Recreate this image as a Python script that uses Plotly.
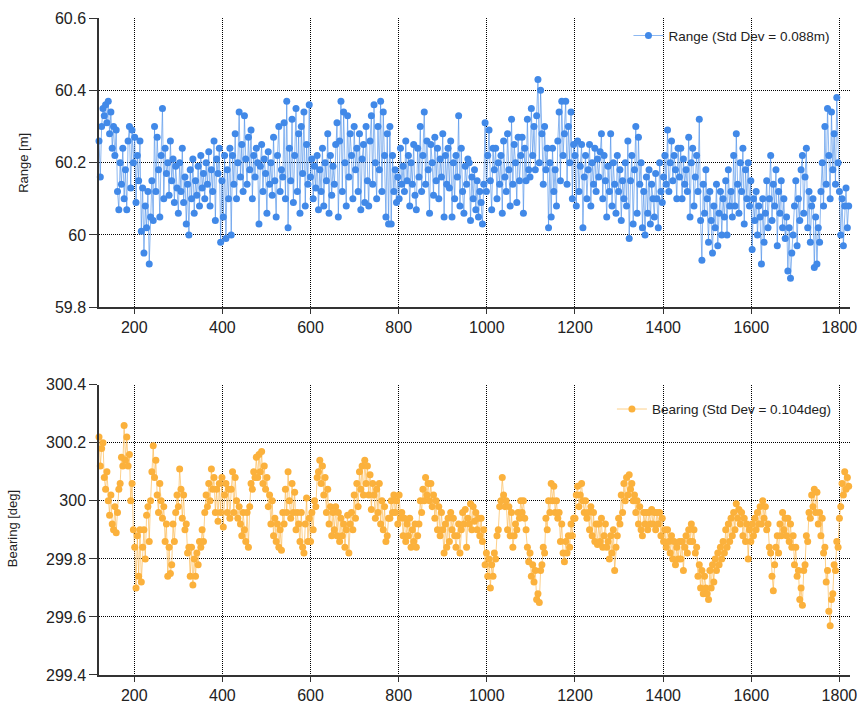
import plotly.graph_objects as go

# Sample numbering: first sample and spacing between stored samples
sample_start = 120
sample_step = 3

# Range measurements [m], 20 samples per row
range_m = [
    60.26, 60.16, 60.30, 60.35, 60.33, 60.36, 60.31, 60.37, 60.28, 60.34, 60.24, 60.30, 60.22, 60.29, 60.12, 60.07, 60.20, 60.14, 60.24, 60.10,
    60.18, 60.07, 60.26, 60.30, 60.13, 60.29, 60.20, 60.27, 60.09, 60.22, 60.15, 60.26, 60.01, 60.13, 59.95, 60.08, 60.02, 60.12, 59.92, 60.05,
    60.15, 60.04, 60.30, 60.12, 60.27, 60.18, 60.05, 60.22, 60.35, 60.10, 60.24, 60.17, 60.20, 60.11, 60.26, 60.15, 60.21, 60.09, 60.19, 60.13,
    60.06, 60.20, 60.12, 60.24, 60.09, 60.16, 60.03, 60.14, 60.00, 60.18, 60.10, 60.21, 60.06, 60.15, 60.11, 60.19, 60.08, 60.22, 60.13, 60.17,
    60.10, 60.20, 60.14, 60.23, 60.08, 60.18, 60.12, 60.26, 60.04, 60.21, 60.17, 60.24, 59.98, 60.15, 60.05, 60.22, 59.99, 60.18, 60.10, 60.24,
    60.00, 60.22, 60.14, 60.28, 60.10, 60.20, 60.34, 60.16, 60.25, 60.12, 60.33, 60.21, 60.14, 60.27, 60.18, 60.29, 60.10, 60.22, 60.16, 60.24,
    60.20, 60.03, 60.19, 60.25, 60.12, 60.21, 60.17, 60.06, 60.23, 60.14, 60.20, 60.11, 60.27, 60.15, 60.05, 60.22, 60.30, 60.12, 60.18, 60.16,
    60.31, 60.10, 60.37, 60.02, 60.24, 60.15, 60.32, 60.09, 60.22, 60.35, 60.12, 60.28, 60.06, 60.30, 60.17, 60.34, 60.08, 60.25, 60.14, 60.36,
    60.16, 60.21, 60.10, 60.19, 60.13, 60.22, 60.07, 60.18, 60.12, 60.24, 60.08, 60.20, 60.15, 60.28, 60.06, 60.22, 60.11, 60.19, 60.14, 60.25,
    60.31, 60.05, 60.26, 60.37, 60.12, 60.34, 60.20, 60.08, 60.33, 60.16, 60.28, 60.22, 60.10, 60.30, 60.18, 60.24, 60.12, 60.28, 60.07, 60.21,
    60.25, 60.09, 60.30, 60.15, 60.08, 60.26, 60.33, 60.14, 60.36, 60.20, 60.10, 60.30, 60.18, 60.37, 60.12, 60.34, 60.22, 60.05, 60.28, 60.03,
    60.30, 60.03, 60.22, 60.12, 60.18, 60.09, 60.16, 60.10, 60.24, 60.14, 60.19, 60.12, 60.26, 60.15, 60.22, 60.08, 60.20, 60.14, 60.25, 60.11,
    60.07, 60.24, 60.16, 60.30, 60.12, 60.22, 60.34, 60.14, 60.26, 60.18, 60.06, 60.25, 60.20, 60.11, 60.27, 60.15, 60.24, 60.10, 60.21, 60.16,
    60.28, 60.05, 60.22, 60.14, 60.24, 60.13, 60.26, 60.05, 60.20, 60.10, 60.22, 60.16, 60.33, 60.08, 60.24, 60.12, 60.06, 60.19, 60.14, 60.21,
    60.20, 60.04, 60.16, 60.10, 60.18, 60.07, 60.15, 60.05, 60.12, 60.09, 60.03, 60.14, 60.31, 60.12, 60.22, 60.29, 60.15, 60.07, 60.24, 60.18,
    60.24, 60.10, 60.20, 60.14, 60.22, 60.06, 60.26, 60.16, 60.12, 60.28, 60.18, 60.08, 60.32, 60.14, 60.25, 60.20, 60.09, 60.27, 60.15, 60.22,
    60.27, 60.06, 60.24, 60.15, 60.32, 60.18, 60.16, 60.35, 60.22, 60.30, 60.18, 60.33, 60.43, 60.20, 60.40, 60.28, 60.14, 60.30, 60.18, 60.24,
    60.02, 60.20, 60.05, 60.24, 60.12, 60.18, 60.08, 60.26, 60.34, 60.15, 60.37, 60.22, 60.28, 60.37, 60.14, 60.30, 60.20, 60.34, 60.10, 60.25,
    60.22, 60.08, 60.26, 60.12, 60.19, 60.25, 60.02, 60.16, 60.22, 60.10, 60.18, 60.25, 60.08, 60.20, 60.14, 60.24, 60.12, 60.21, 60.16, 60.23,
    60.28, 60.10, 60.22, 60.15, 60.05, 60.19, 60.12, 60.28, 60.08, 60.20, 60.14, 60.06, 60.22, 60.12, 60.18, 60.04, 60.15, 60.10, 60.20, 60.08,
    60.26, 59.99, 60.15, 60.22, 60.03, 60.18, 60.30, 60.06, 60.27, 60.14, 60.20, 60.02, 60.12, 60.00, 60.16, 60.06, 60.18, 60.03, 60.14, 60.10,
    60.05, 60.17, 60.10, 60.02, 60.20, 60.12, 60.09, 60.16, 60.22, 60.14, 60.29, 60.12, 60.20, 60.26, 60.15, 60.22, 60.18, 60.10, 60.24, 60.16,
    60.24, 60.10, 60.21, 60.14, 60.18, 60.12, 60.27, 60.05, 60.20, 60.24, 60.08, 60.16, 60.22, 60.12, 60.32, 60.04, 59.93, 60.14, 60.06, 60.18,
    60.10, 59.98, 60.12, 60.04, 59.95, 60.08, 60.02, 60.14, 59.97, 60.06, 60.12, 60.00, 60.10, 60.05, 60.15, 60.00, 60.18, 60.08, 60.12, 60.05,
    60.22, 60.08, 60.28, 60.14, 60.06, 60.20, 60.12, 60.24, 60.03, 60.18, 60.10, 60.20, 60.08, 60.15, 59.96, 60.10, 60.04, 60.12, 60.00, 60.08,
    60.05, 59.92, 60.10, 59.98, 60.06, 60.15, 60.02, 60.10, 60.22, 60.04, 60.14, 60.08, 60.18, 59.97, 60.12, 60.06, 60.15, 60.02, 60.10, 59.99,
    60.05, 59.90, 60.02, 59.88, 59.95, 60.00, 60.08, 60.15, 59.97, 60.10, 60.04, 60.18, 60.22, 60.06, 60.16, 60.24, 60.02, 60.12, 59.98, 60.08,
    60.10, 59.91, 60.05, 59.92, 60.02, 59.98, 60.12, 60.20, 60.08, 60.30, 60.14, 60.35, 60.22, 60.10, 60.34, 60.18, 60.28, 60.14, 60.38, 60.20,
    60.12, 60.00, 60.10, 59.97, 60.08, 60.13, 60.02, 60.08,
]

# Bearing measurements [deg], 20 samples per row
bearing_deg = [
    300.22, 300.12, 300.18, 300.20, 300.08, 300.04, 300.10, 300.00, 299.95, 300.02, 299.92, 299.90, 299.98, 299.89, 299.96, 300.04, 300.06, 300.15, 300.12, 300.26,
    300.14, 300.22, 300.12, 300.16, 300.00, 300.06, 299.90, 299.84, 299.70, 299.88, 299.74, 299.90, 299.72, 299.84, 299.90, 299.80, 299.95, 299.98, 299.86, 300.00,
    300.10, 300.19, 300.08, 300.14, 300.02, 299.96, 300.06, 300.00, 299.94, 299.98, 299.86, 299.92, 299.74, 299.84, 299.75, 299.78, 299.92, 299.86, 299.96, 300.02,
    299.98, 300.11, 300.04, 299.94, 300.02, 299.90, 299.92, 299.82, 299.84, 299.74, 299.84, 299.71, 299.80, 299.74, 299.82, 299.78, 299.86, 299.84, 299.90, 299.86,
    299.96, 300.02, 299.98, 300.06, 300.00, 300.11, 300.04, 300.08, 299.96, 300.04, 299.93, 300.06, 299.96, 300.08, 299.91, 300.02, 300.06, 299.96, 300.04, 299.94,
    300.04, 300.10, 299.96, 300.08, 300.00, 299.94, 299.98, 299.92, 299.88, 299.96, 299.90, 299.86, 299.96, 299.84, 299.98, 300.06, 300.04, 300.10, 300.08, 300.15,
    300.08, 300.16, 300.10, 300.17, 300.06, 300.12, 300.04, 300.08, 299.98, 300.02, 299.92, 300.00, 299.88, 299.94, 299.86, 299.92, 299.84, 299.90, 299.83, 299.96,
    299.92, 300.04, 299.96, 300.10, 300.00, 299.94, 300.06, 299.96, 300.03, 299.90, 299.96, 299.92, 299.86, 299.96, 299.84, 299.82, 299.92, 300.01, 299.86, 299.94,
    299.86, 299.96, 299.90, 300.00, 299.98, 300.08, 300.10, 300.14, 300.06, 300.12, 300.02, 300.08, 299.96, 300.04, 299.92, 299.98, 299.88, 299.96, 299.90, 299.98,
    299.88, 299.96, 299.86, 299.94, 299.88, 299.92, 299.84, 299.90, 299.95, 299.82, 299.92, 299.96, 299.90, 300.02, 299.94, 300.06, 299.98, 300.10, 300.04, 300.12,
    300.02, 300.14, 300.06, 300.12, 300.02, 300.09, 299.97, 300.06, 300.02, 299.94, 300.04, 299.96, 300.06, 299.92, 300.00, 299.90, 299.98, 299.86, 299.88, 299.94,
    299.94, 300.00, 299.96, 300.02, 299.96, 300.00, 299.92, 300.02, 299.94, 299.96, 299.88, 299.94, 299.86, 299.92, 299.88, 299.94, 299.84, 299.90, 299.86, 299.92,
    299.84, 299.88, 299.92, 300.00, 299.96, 300.04, 300.00, 300.08, 300.02, 300.06, 300.00, 300.06, 299.98, 300.02, 299.94, 300.00, 299.90, 299.98, 299.88, 299.96,
    299.90, 299.82, 299.92, 299.84, 299.94, 299.86, 299.96, 299.90, 299.94, 299.88, 299.84, 299.88, 299.92, 299.82, 299.90, 299.96, 299.92, 299.97, 299.84, 299.94,
    299.92, 299.99, 299.90, 299.98, 299.93, 299.96, 299.90, 299.94, 299.88, 299.94, 299.86, 299.90, 299.78, 299.82, 299.74, 299.80, 299.70, 299.78, 299.74, 299.82,
    299.80, 299.88, 299.90, 299.98, 300.00, 300.08, 300.02, 299.98, 300.00, 299.90, 299.98, 299.88, 299.96, 299.84, 299.88, 299.92, 299.90, 299.96, 299.94, 300.00,
    299.96, 300.00, 299.94, 299.90, 299.84, 299.79, 299.82, 299.74, 299.78, 299.72, 299.76, 299.66, 299.68, 299.65, 299.76, 299.78, 299.84, 299.82, 299.94, 299.90,
    300.00, 299.96, 300.06, 300.00, 300.05, 299.96, 300.00, 299.94, 299.96, 299.86, 299.92, 299.82, 299.79, 299.86, 299.82, 299.88, 299.84, 299.92, 299.88, 299.94,
    299.94, 300.02, 300.05, 299.98, 300.02, 300.06, 300.00, 299.96, 300.00, 299.94, 299.96, 299.90, 299.98, 299.88, 299.96, 299.86, 299.92, 299.85, 299.92, 299.86,
    299.94, 299.84, 299.88, 299.92, 299.84, 299.86, 299.80, 299.88, 299.82, 299.90, 299.76, 299.84, 299.88, 299.94, 299.92, 300.02, 299.96, 300.06, 300.00, 300.08,
    300.02, 300.09, 300.04, 300.06, 300.00, 300.02, 299.96, 300.00, 299.92, 299.98, 299.90, 299.88, 299.96, 299.92, 299.96, 299.90, 299.96, 299.92, 299.97, 299.92,
    299.96, 299.90, 299.96, 299.92, 299.96, 299.88, 299.94, 299.86, 299.90, 299.84, 299.90, 299.86, 299.82, 299.88, 299.80, 299.86, 299.78, 299.84, 299.80, 299.86,
    299.80, 299.86, 299.76, 299.84, 299.88, 299.82, 299.90, 299.86, 299.92, 299.86, 299.90, 299.82, 299.84, 299.74, 299.78, 299.70, 299.76, 299.68, 299.74, 299.70,
    299.68, 299.66, 299.76, 299.70, 299.78, 299.72, 299.80, 299.76, 299.82, 299.78, 299.84, 299.80, 299.86, 299.82, 299.90, 299.84, 299.92, 299.86, 299.94, 299.88,
    299.96, 299.90, 299.99, 299.94, 299.97, 299.92, 299.96, 299.88, 299.94, 299.86, 299.92, 299.80, 299.90, 299.86, 299.92, 299.88, 299.94, 299.90, 299.96, 299.92,
    299.98, 299.92, 300.00, 299.94, 299.98, 299.90, 299.92, 299.84, 299.82, 299.74, 299.69, 299.78, 299.84, 299.88, 299.82, 299.92, 299.88, 299.96, 299.90, 299.94,
    299.88, 299.94, 299.86, 299.92, 299.84, 299.88, 299.78, 299.84, 299.74, 299.76, 299.66, 299.70, 299.64, 299.76, 299.78, 299.88, 299.86, 299.96, 299.94, 300.02,
    299.98, 300.04, 299.96, 300.03, 299.92, 299.96, 299.88, 299.94, 299.82, 299.84, 299.72, 299.76, 299.62, 299.57, 299.66, 299.68, 299.78, 299.76, 299.86, 299.84,
    299.94, 299.98, 300.06, 300.02, 300.10, 300.04, 300.08, 300.05,
]

range_label = "Range (Std Dev = 0.088m)"
bearing_label = "Bearing (Std Dev = 0.104deg)"
range_title = "Range [m]"
bearing_title = "Bearing [deg]"

x_ticks = [200, 400, 600, 800, 1000, 1200, 1400, 1600, 1800]
range_ticks = [59.8, 60.0, 60.2, 60.4, 60.6]
range_ticktext = ["59.8", "60", "60.2", "60.4", "60.6"]
bearing_ticks = [299.4, 299.6, 299.8, 300.0, 300.2, 300.4]
bearing_ticktext = ["299.4", "299.6", "299.8", "300", "300.2", "300.4"]

samples_r = [sample_start + i * sample_step for i in range(len(range_m))]
samples_b = [sample_start + i * sample_step for i in range(len(bearing_deg))]

BLUE = "#4189E8"
BLUE_LINE = "rgba(65,137,232,0.6)"
ORANGE = "#FBB13C"
ORANGE_LINE = "rgba(251,177,60,0.6)"
FONT = "Liberation Sans, Arial, sans-serif"
INK = "#222222"

fig = go.Figure()

fig.add_trace(go.Scatter(
    x=samples_r, y=range_m, mode="lines+markers", name=range_label,
    line=dict(color=BLUE_LINE, width=1), marker=dict(color=BLUE, size=7),
    xaxis="x", yaxis="y", legend="legend", cliponaxis=False,
))
fig.add_trace(go.Scatter(
    x=samples_b, y=bearing_deg, mode="lines+markers", name=bearing_label,
    line=dict(color=ORANGE_LINE, width=1), marker=dict(color=ORANGE, size=7),
    xaxis="x2", yaxis="y2", legend="legend2", cliponaxis=False,
))

xaxis_style = dict(
    range=[120, 1824], tickvals=x_ticks, showgrid=True, gridcolor="#000000",
    griddash="1px,1px", gridwidth=1, showline=True, linecolor="#333333",
    linewidth=1.5, ticks="outside", ticklen=5, tickcolor="#333333",
    tickfont=dict(family=FONT, size=16, color=INK), zeroline=False,
)
yaxis_style = dict(
    showgrid=True, gridcolor="#000000", griddash="1px,1px", gridwidth=1,
    showline=True, linecolor="#333333", linewidth=1.5, ticks="outside",
    ticklen=8, tickcolor="#333333", tickfont=dict(family=FONT, size=16, color=INK),
    zeroline=False,
)

fig.update_layout(
    width=867, height=714,
    margin=dict(l=99, r=10, t=12, b=32),
    paper_bgcolor="white", plot_bgcolor="white",
    showlegend=True,
    xaxis=dict(domain=[0, 1], anchor="y", **xaxis_style),
    yaxis=dict(domain=[0.5597, 1], anchor="x", range=[59.8, 60.6],
               tickvals=range_ticks, ticktext=range_ticktext, **yaxis_style),
    xaxis2=dict(domain=[0, 1], anchor="y2", **xaxis_style),
    yaxis2=dict(domain=[0, 0.4418], anchor="x2", range=[299.4, 300.4],
                tickvals=bearing_ticks, ticktext=bearing_ticktext, **yaxis_style),
    legend=dict(x=0.705, y=0.973, xanchor="left", yanchor="middle",
                bgcolor="rgba(0,0,0,0)", itemwidth=30,
                font=dict(family=FONT, size=13.5, color=INK)),
    legend2=dict(x=0.683, y=0.4045, xanchor="left", yanchor="middle",
                 bgcolor="rgba(0,0,0,0)", itemwidth=30,
                 font=dict(family=FONT, size=13.5, color=INK)),
    annotations=[
        dict(text=range_title, xref="paper", yref="paper", x=-0.1016, y=0.7791,
             textangle=-90, showarrow=False, xanchor="center", yanchor="middle",
             font=dict(family=FONT, size=13, color=INK)),
        dict(text=bearing_title, xref="paper", yref="paper", x=-0.1141, y=0.2224,
             textangle=-90, showarrow=False, xanchor="center", yanchor="middle",
             font=dict(family=FONT, size=13, color=INK)),
    ],
)

fig.write_html("out.html")
